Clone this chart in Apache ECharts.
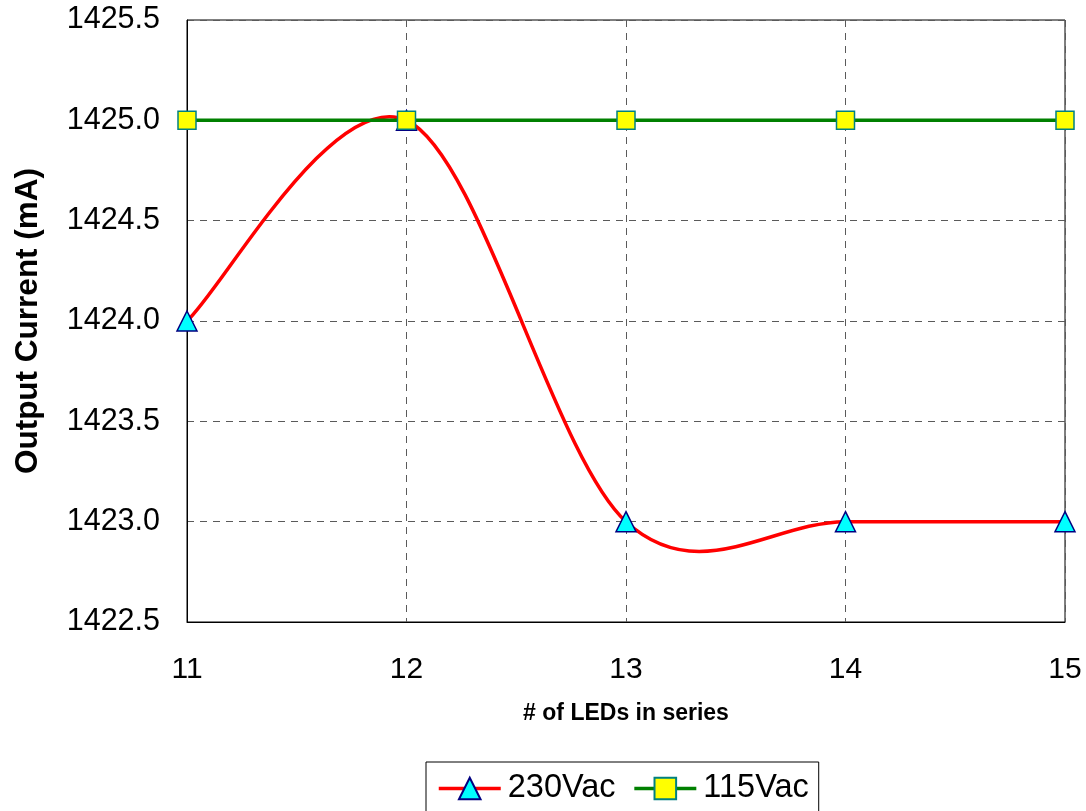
<!DOCTYPE html>
<html>
<head>
<meta charset="utf-8">
<script src="https://cdn.jsdelivr.net/npm/echarts@6/dist/echarts.min.js"></script>
<style>
  html, body { margin: 0; padding: 0; background: #ffffff; }
  #chart { width: 1086px; height: 811px; }
</style>
</head>
<body>
<div id="chart"></div>
<script>
// Number of LEDs in series (x values)
const ledCounts = [11, 12, 13, 14, 15];
// Output current (mA) at each LED count
const current230 = [1424.0, 1425.0, 1423.0, 1423.0, 1423.0];
const current115 = [1425.0, 1425.0, 1425.0, 1425.0, 1425.0];
const seriesNames = ['230Vac', '115Vac'];

const FONT = '"Liberation Sans", Arial, Helvetica, sans-serif';

const pts230 = ledCounts.map((x, i) => [x, current230[i]]);
const pts115 = ledCounts.map((x, i) => [x, current115[i]]);

// Smoothed curve (Catmull-Rom style Bezier) through the 230Vac points,
// one segment per data item, mapped through the cartesian axes.
function renderSmooth(params, api) {
  const i = params.dataIndex;
  const n = pts230.length;
  if (i >= n - 1) return null;
  const P = k => api.coord(pts230[Math.max(0, Math.min(n - 1, k))]);
  const p0 = P(i - 1), p1 = P(i), p2 = P(i + 1), p3 = P(i + 2);
  return {
    type: 'bezierCurve',
    shape: {
      x1: p1[0], y1: p1[1],
      cpx1: p1[0] + (p2[0] - p0[0]) / 6, cpy1: p1[1] + (p2[1] - p0[1]) / 6,
      cpx2: p2[0] - (p3[0] - p1[0]) / 6, cpy2: p2[1] - (p3[1] - p1[1]) / 6,
      x2: p2[0], y2: p2[1]
    },
    style: { stroke: '#ff0000', lineWidth: 3.5, fill: null, lineCap: 'round' }
  };
}

const chart = echarts.init(document.getElementById('chart'), null, { renderer: 'canvas' });

const dashed = { type: [7, 6], color: '#5a5a5a', width: 1 };

chart.setOption({
  animation: false,
  backgroundColor: '#ffffff',
  grid: {
    left: 187, right: 21, top: 20, bottom: 189,
    show: true, borderColor: '#000000', borderWidth: 1,
    containLabel: false, outerBoundsMode: 'none'
  },
  xAxis: {
    type: 'value', min: 11, max: 15, interval: 1,
    name: '# of LEDs in series', nameLocation: 'middle', nameGap: 80,
    nameTextStyle: { fontFamily: FONT, fontSize: 23, fontWeight: 'bold', color: '#000' },
    axisLine: { show: true, lineStyle: { color: '#000', width: 1 } },
    axisTick: { show: false },
    axisLabel: { fontFamily: FONT, fontSize: 30, color: '#000', margin: 33 },
    splitLine: { show: true, lineStyle: dashed }
  },
  yAxis: {
    type: 'value', min: 1422.5, max: 1425.5, interval: 0.5,
    name: 'Output Current (mA)', nameLocation: 'middle', nameGap: 143, nameRotate: 90,
    nameTextStyle: { fontFamily: FONT, fontSize: 31.5, fontWeight: 'bold', color: '#000' },
    axisLine: { show: true, lineStyle: { color: '#000', width: 1 } },
    axisTick: { show: false },
    axisLabel: {
      fontFamily: FONT, fontSize: 30.5, color: '#000', margin: 27,
      formatter: v => v.toFixed(1)
    },
    splitLine: { show: true, lineStyle: dashed }
  },
  legend: {
    left: 426, top: 762,
    padding: [10, 10, 10, 11],
    itemWidth: 62, itemHeight: 27, itemGap: 17,
    borderColor: '#000', borderWidth: 1,
    textStyle: { fontFamily: FONT, fontSize: 32.5, color: '#000', padding: [0, 0, 0, 2] },
    data: [
      { name: seriesNames[0], lineStyle: { color: '#ff0000', width: 3.5, opacity: 1 } },
      { name: seriesNames[1], lineStyle: { color: '#008000', width: 3.5, opacity: 1 } }
    ]
  },
  series: [
    {
      type: 'custom',
      name: seriesNames[0] + ' curve',
      coordinateSystem: 'cartesian2d',
      data: pts230,
      encode: { x: 0, y: 1 },
      renderItem: renderSmooth,
      silent: true,
      clip: false,
      z: 2
    },
    {
      type: 'line',
      name: seriesNames[0],
      data: pts230,
      symbol: 'triangle',
      symbolSize: 20,
      showAllSymbol: true,
      itemStyle: { color: '#00ffff', borderColor: '#000080', borderWidth: 1.5, opacity: 1 },
      lineStyle: { color: '#ff0000', width: 3.5, opacity: 0 },
      emphasis: { disabled: true },
      z: 3
    },
    {
      type: 'line',
      name: seriesNames[1],
      data: pts115,
      symbol: 'rect',
      symbolSize: 18,
      showAllSymbol: true,
      itemStyle: { color: '#ffff00', borderColor: '#008080', borderWidth: 1.5, opacity: 1 },
      lineStyle: { color: '#008000', width: 3.5 },
      emphasis: { disabled: true },
      z: 4
    }
  ]
});
</script>
</body>
</html>
